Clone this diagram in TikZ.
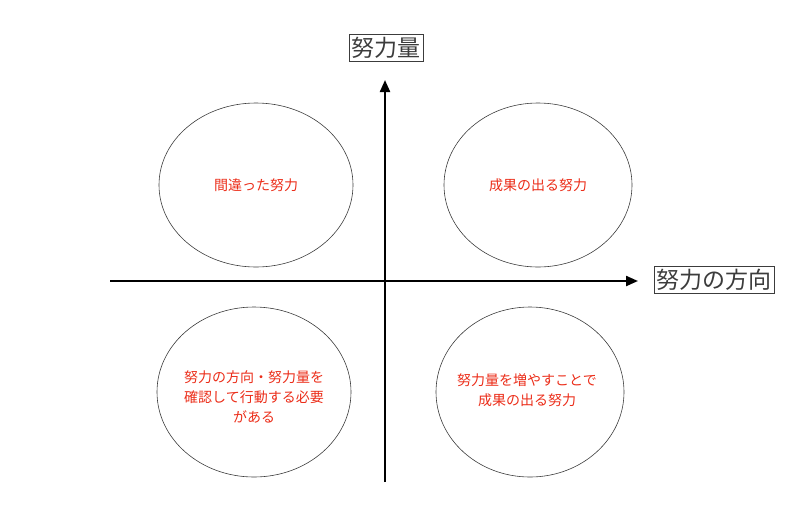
\documentclass[tikz,border=0pt]{standalone}
\usepackage{fontspec}
\setmainfont{Noto Sans CJK JP}
\usetikzlibrary{arrows.meta}
\definecolor{txtred}{RGB}{235,45,25}
\definecolor{gr}{RGB}{60,60,60}
\tikzset{
 ax/.style={line width=2.2pt,-{Triangle[length=12pt,width=10pt]}},
 circ/.style={draw=gr,line width=0.6pt},
 lbl/.style={text=txtred,font=\fontsize{14}{20}\selectfont,align=center},
 axl/.style={draw=gr,line width=0.7pt,text=gr,font=\fontsize{23}{25}\selectfont,inner sep=2.5pt}
}
\begin{document}
\begin{tikzpicture}[x=1pt,y=-1pt]
\useasboundingbox (0,0) rectangle (800,528);
\coordinate (hs) at (110,281); \coordinate (he) at (638,281);
\coordinate (vs) at (385,482); \coordinate (ve) at (385,80);
\draw[ax] (hs) -- (he);
\draw[ax] (vs) -- (ve);
\node[axl] (yl) at (386,48) {努力量};
\node[axl] (xl) at (714,280) {努力の方向};
\draw[circ] (256,185) ellipse [x radius=97,y radius=82];
\draw[circ] (538,185) ellipse [x radius=94,y radius=82];
\draw[circ] (254,392) ellipse [x radius=97,y radius=85];
\draw[circ] (530,392) ellipse [x radius=94,y radius=85];
\node[lbl] (a) at (256,185) {間違った努力};
\node[lbl] (b) at (538,185) {成果の出る努力};
\node[lbl] (c) at (254,397) {努力の方向・努力量を\\確認して行動する必要\\がある};
\node[lbl] (d) at (527,390) {努力量を増やすことで\\成果の出る努力};
\end{tikzpicture}
\end{document}
